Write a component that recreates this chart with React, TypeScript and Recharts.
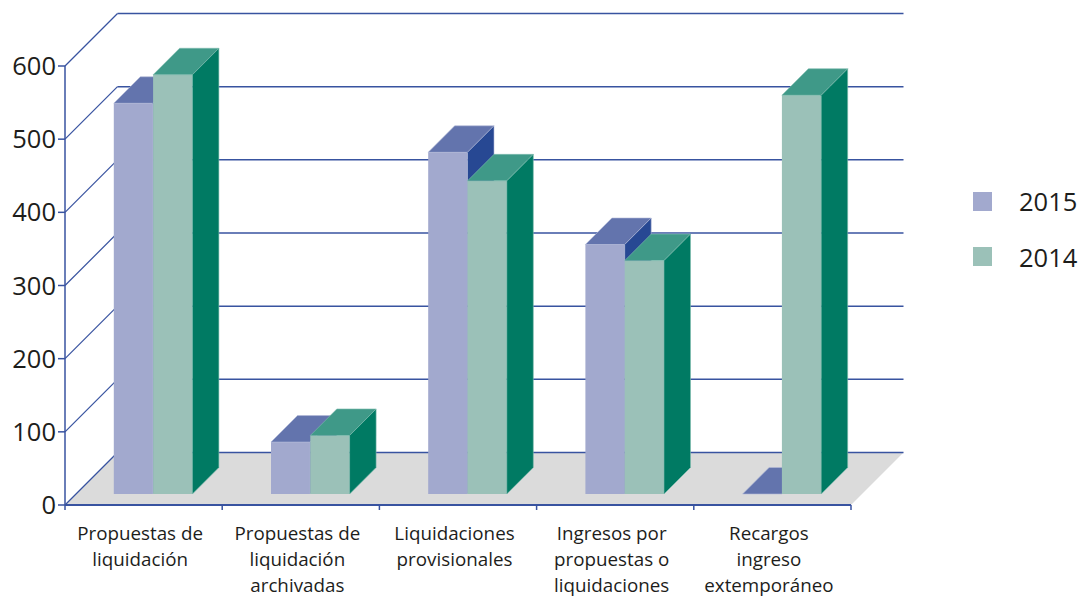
import { Bar, BarChart, CartesianGrid, Legend, XAxis, YAxis } from "recharts";

const categories = [
  "Propuestas de\nliquidación",
  "Propuestas de\nliquidación\narchivadas",
  "Liquidaciones\nprovisionales",
  "Ingresos por\npropuestas o\nliquidaciones",
  "Recargos\ningreso\nextemporáneo",
];
const values2015 = [534, 71, 467, 341, 0];
const values2014 = [573, 80, 428, 319, 545];
const yTicks = [0, 100, 200, 300, 400, 500, 600];

const data = categories.map((name, i) => ({
  name,
  v2015: values2015[i],
  v2014: values2014[i],
}));

const FONT = "'Open Sans', sans-serif";
const AXIS_COLOR = "#3853a0";
const TEXT_COLOR = "#1d1d1b";
const WALL = 52.5;
const BAR_DEPTH = 26.5;
const BAR_SHIFT_X = 9.8;
const BAR_SHIFT_Y = -11;
const CAT_WIDTH = 157.2;

const blue = { front: "#a2a9ce", top: "#6374ad", side: "#274893", edge: "#b4bbd9" };
const green = { front: "#9bc1b8", top: "#3f9988", side: "#007a63", edge: "#7fbcae" };

function makeBox(c: typeof blue) {
  return function Box(props: any) {
    const { x, y, width, height } = props;
    const l = x + BAR_SHIFT_X;
    const r = l + width;
    const t = y + BAR_SHIFT_Y;
    const b = t + height;
    const d = BAR_DEPTH;
    return (
      <g>
        {height > 0 && <rect x={l} y={t} width={width} height={height} fill={c.front} />}
        <polygon
          points={`${l},${t} ${r},${t} ${r + d},${t - d} ${l + d},${t - d}`}
          fill={c.top}
          stroke={c.edge}
          strokeWidth={0.6}
        />
        {height > 0 && (
          <polygon
            points={`${r},${t} ${r + d},${t - d} ${r + d},${b - d} ${r},${b}`}
            fill={c.side}
            stroke={c.edge}
            strokeWidth={0.6}
          />
        )}
      </g>
    );
  };
}

// back wall line plus the diagonal up from the axis, floor under the zero line
function WallLine(props: any) {
  const { x1, x2, y1, index } = props;
  const bx = x1 + WALL;
  const by = y1 - WALL;
  return (
    <g key={`wall-${index}`}>
      {y1 > 500 && (
        <polygon
          points={`${x1},${y1} ${x2},${y1} ${x2 + WALL},${by} ${bx},${by}`}
          fill="#dbdbdb"
        />
      )}
      <line x1={x1} y1={y1} x2={bx} y2={by} stroke={AXIS_COLOR} strokeWidth={1.2} />
      <line x1={bx} y1={by} x2={x2 + WALL} y2={by} stroke={AXIS_COLOR} strokeWidth={1.5} />
    </g>
  );
}

function CategoryTick(props: any) {
  const { x, y, payload, index } = props;
  const lines = String(payload.value).split("\n");
  const half = CAT_WIDTH / 2;
  return (
    <g>
      {index === 0 && (
        <line x1={x - half} y1={y} x2={x - half} y2={y + 5} stroke={AXIS_COLOR} strokeWidth={1.5} />
      )}
      <line x1={x + half} y1={y} x2={x + half} y2={y + 5} stroke={AXIS_COLOR} strokeWidth={1.5} />
      <text textAnchor="middle" fontFamily={FONT} fontSize={18.8} fill={TEXT_COLOR}>
        {lines.map((line, i) => (
          <tspan key={line} x={x - 3.5} y={y + 35 + i * 26}>
            {line}
          </tspan>
        ))}
      </text>
    </g>
  );
}

function YearLegend(props: any) {
  const { payload } = props;
  return (
    <div>
      {payload.map((entry: any) => (
        <div
          key={entry.value}
          style={{ display: "flex", alignItems: "center", height: 55.5, fontFamily: FONT, fontSize: 25.5, color: TEXT_COLOR }}
        >
          <span style={{ width: 19, height: 19, background: entry.color, marginRight: 27 }} />
          {entry.value}
        </div>
      ))}
    </div>
  );
}

export default function App() {
  return (
    <div style={{ position: "absolute", left: 0, top: 0, width: 1086, height: 601, background: "#fff" }}>
      <BarChart
        width={1086}
        height={601}
        data={data}
        margin={{ top: 66, right: 235, bottom: 0, left: 0 }}
        barGap={0}
        barSize={39.3}
      >
        <CartesianGrid vertical={false} horizontal={WallLine} />
        <XAxis
          dataKey="name"
          height={96}
          interval={0}
          tickLine={false}
          tickSize={0}
          tickMargin={0}
          axisLine={{ stroke: AXIS_COLOR, strokeWidth: 2 }}
          tick={CategoryTick}
        />
        <YAxis
          width={65}
          domain={[0, 600]}
          ticks={yTicks}
          tickSize={7}
          tickMargin={2}
          axisLine={{ stroke: AXIS_COLOR, strokeWidth: 1.5 }}
          tickLine={{ stroke: AXIS_COLOR, strokeWidth: 1.5 }}
          tick={{ fontFamily: FONT, fontSize: 25.5, fill: TEXT_COLOR }}
        />
        <Legend
          layout="vertical"
          align="center"
          verticalAlign="middle"
          itemSorter={null}
          wrapperStyle={{ left: 973, top: 173.5, width: 113, bottom: "auto" }}
          content={YearLegend}
        />
        <Bar dataKey="v2015" name="2015" fill={blue.front} shape={makeBox(blue)} isAnimationActive={false} />
        <Bar dataKey="v2014" name="2014" fill={green.front} shape={makeBox(green)} isAnimationActive={false} />
      </BarChart>
    </div>
  );
}
